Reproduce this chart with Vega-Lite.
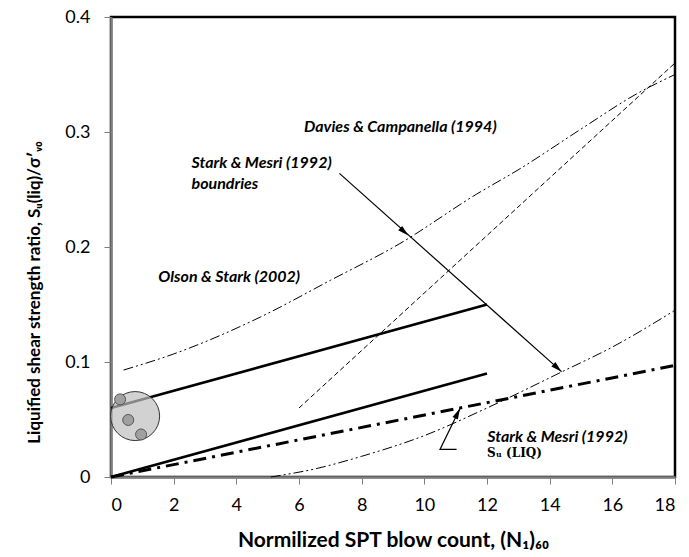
{
  "$schema": "https://vega.github.io/schema/vega-lite/v6.json",
  "width": 564,
  "height": 460,
  "autosize": {"type": "none"},
  "padding": {"left": 111, "top": 17, "right": 14, "bottom": 80},
  "background": "white",
  "config": {
    "view": {"stroke": "black", "strokeWidth": 2.5},
    "axis": {
      "grid": false,
      "domainColor": "#7f7f7f",
      "domainWidth": 2.5,
      "tickColor": "#7f7f7f",
      "tickSize": 7,
      "tickWidth": 1,
      "labelFont": "Lato",
      "labelFontSize": 18,
      "labelColor": "black",
      "titleFont": "Lato",
      "titleFontWeight": "bold",
      "titleColor": "black"
    }
  },
  "datasets": {
    "upper": [{"n": 0, "s": 0.06}, {"n": 12, "s": 0.15}],
    "lower": [{"n": 0, "s": 0}, {"n": 12, "s": 0.09}],
    "liq": [{"n": 0, "s": 0}, {"n": 18, "s": 0.097}],
    "bound": [{"n": 6, "s": 0.06}, {"n": 18, "s": 0.36}],
    "daviesUp": [
      {"n": 0.4, "s": 0.093}, {"n": 2, "s": 0.107}, {"n": 4.76, "s": 0.139},
      {"n": 7, "s": 0.171}, {"n": 9.22, "s": 0.203}, {"n": 11.67, "s": 0.246},
      {"n": 13.05, "s": 0.268}, {"n": 14.97, "s": 0.302}, {"n": 16.83, "s": 0.334},
      {"n": 18, "s": 0.35}
    ],
    "daviesLow": [
      {"n": 5.1, "s": 0}, {"n": 6.5, "s": 0.007}, {"n": 8, "s": 0.018},
      {"n": 10, "s": 0.036}, {"n": 12, "s": 0.06}, {"n": 14.4, "s": 0.0916},
      {"n": 16, "s": 0.113}, {"n": 18, "s": 0.145}
    ],
    "arrow1": [{"n": 7.29, "s": 0.264}, {"n": 14.38, "s": 0.0916}],
    "arrow2": [{"i": 0, "n": 11.03, "s": 0.024}, {"i": 1, "n": 10.5, "s": 0.024}, {"i": 2, "n": 11.14, "s": 0.0597}],
    "heads1": [{"n": 9.49, "s": 0.21}, {"n": 14.38, "s": 0.0916}],
    "heads2": [{"n": 11.14, "s": 0.0597}],
    "circle": [{"n": 0.77, "s": 0.053}],
    "dots": [{"n": 0.29, "s": 0.0675}, {"n": 0.55, "s": 0.0496}, {"n": 0.96, "s": 0.037}],
    "labels": [
      {"n": 6.16, "s": 0.304, "t": "Davies & Campanella  (1994)"},
      {"n": 2.57, "s": 0.2727, "t": "Stark & Mesri (1992)"},
      {"n": 2.57, "s": 0.255, "t": "boundries"},
      {"n": 1.51, "s": 0.174, "t": "Olson & Stark (2002)"},
      {"n": 12.01, "s": 0.035, "t": "Stark & Mesri (1992)"}
    ],
    "suLabel": [{"n": 12.0, "s": 0.0206, "t": "Sᵤ (LIQ)"}]
  },
  "encoding": {
    "x": {
      "field": "n", "type": "quantitative",
      "scale": {"domain": [0, 18], "nice": false, "zero": false},
      "axis": {
        "values": [0, 2, 4, 6, 8, 10, 12, 14, 16, 18],
        "labelPadding": 12,
        "title": "Normilized SPT blow count, (N₁)₆₀",
        "titleFontSize": 21,
        "titleX": 282, "titleY": 63, "titleBaseline": "middle"
      }
    },
    "y": {
      "field": "s", "type": "quantitative",
      "scale": {"domain": [0, 0.4], "nice": false, "zero": false},
      "axis": {
        "values": [0, 0.1, 0.2, 0.3, 0.4],
        "labelExpr": "datum.value == 0 ? '0' : format(datum.value, '.1f')",
        "labelPadding": 14,
        "title": "Liquified shear strength ratio, Sᵤ(liq)/σ′ᵥ₀",
        "titleFontSize": 17,
        "titleX": -77, "titleY": 275, "titleBaseline": "middle", "titleAngle": -90
      }
    }
  },
  "layer": [
    {"data": {"name": "upper"}, "mark": {"type": "line", "color": "black", "strokeWidth": 2.5}},
    {"data": {"name": "lower"}, "mark": {"type": "line", "color": "black", "strokeWidth": 2.5}},
    {"data": {"name": "liq"}, "mark": {"type": "line", "color": "black", "strokeWidth": 3, "strokeDash": [13, 6, 3, 6]}},
    {"data": {"name": "bound"}, "mark": {"type": "line", "color": "black", "strokeWidth": 1, "strokeDash": [5, 3]}},
    {"data": {"name": "daviesUp"}, "mark": {"type": "line", "color": "black", "strokeWidth": 1, "interpolate": "monotone", "strokeDash": [10, 3, 2, 3, 2, 3]}},
    {"data": {"name": "daviesLow"}, "mark": {"type": "line", "color": "black", "strokeWidth": 1, "interpolate": "monotone", "strokeDash": [10, 3, 2, 3, 2, 3]}},
    {"data": {"name": "circle"}, "mark": {"type": "point", "shape": "circle", "filled": true, "size": 2401, "fill": "#bfbfbf", "fillOpacity": 0.7, "stroke": "#333333", "strokeWidth": 1, "opacity": 1}},
    {"data": {"name": "dots"}, "mark": {"type": "point", "shape": "circle", "filled": true, "size": 121, "fill": "#a0a0a0", "stroke": "#555555", "strokeWidth": 1, "opacity": 1}},
    {"data": {"name": "arrow1"}, "mark": {"type": "line", "color": "black", "strokeWidth": 1.2}},
    {"data": {"name": "arrow2"}, "mark": {"type": "line", "color": "black", "strokeWidth": 1.2}, "encoding": {"order": {"field": "i", "type": "quantitative"}}},
    {"data": {"name": "heads1"}, "mark": {"type": "point", "shape": "M0,0L-0.3,1.1L0.3,1.1Z", "filled": true, "color": "black", "size": 400, "angle": 132, "opacity": 1}},
    {"data": {"name": "heads2"}, "mark": {"type": "point", "shape": "M0,0L-0.3,1.1L0.3,1.1Z", "filled": true, "color": "black", "size": 400, "angle": 26, "opacity": 1}},
    {"data": {"name": "labels"}, "mark": {"type": "text", "align": "left", "baseline": "middle", "font": "Lato", "fontSize": 16, "fontWeight": "bold", "fontStyle": "italic", "color": "black"}, "encoding": {"text": {"field": "t"}}},
    {"data": {"name": "suLabel"}, "mark": {"type": "text", "align": "left", "baseline": "middle", "font": "DejaVu Serif", "fontSize": 12, "fontWeight": "bold", "color": "black"}, "encoding": {"text": {"field": "t"}}}
  ]
}
